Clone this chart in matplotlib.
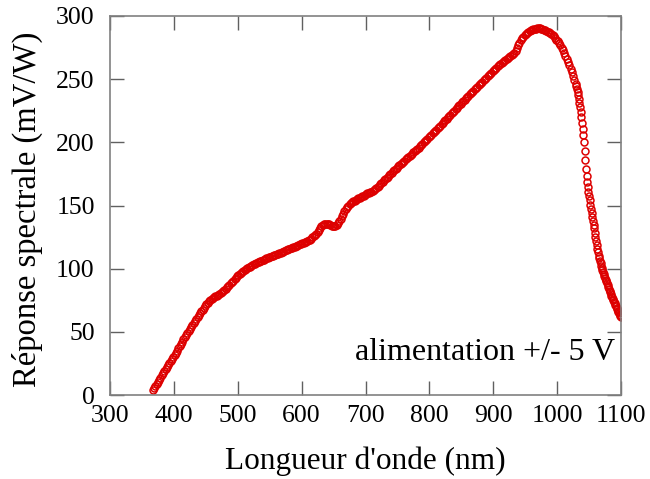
import matplotlib
matplotlib.use("Agg")
import matplotlib.pyplot as plt

# Sampling grid of the measured spectrum (nm)
wavelength = list(range(367, 1030, 2)) + list(range(1030, 1101))

# Spectral response (mV/W)
response = [
    # 367-399
    4.0, 5.6, 7.3, 8.9, 10.5, 12.2, 13.8, 15.5, 17.1, 18.7, 20.4, 22.0, 23.6, 25.3, 26.9, 28.5, 30.2,
    # 401-449
    31.8, 33.5, 35.2, 36.9, 38.6, 40.4, 42.2, 44.0, 45.8, 47.6, 49.3, 50.8, 52.5, 53.8, 55.3,
    56.8, 58.4, 60.0, 61.6, 63.2, 64.7, 66.1, 67.5, 68.9, 70.3,
    # 451-499
    71.7, 73.0, 74.2, 75.3, 76.2, 76.9, 77.5, 78.1, 78.7, 79.3, 79.9, 80.7, 81.5, 82.3, 83.1,
    84.0, 85.1, 86.2, 87.3, 88.4, 89.5, 90.6, 91.8, 92.9, 94.0,
    # 501-599
    94.9, 95.8, 96.6, 97.4, 98.2, 98.9, 99.6, 100.3, 101.0, 101.7,
    102.3, 102.8, 103.3, 103.9, 104.4, 104.9, 105.4, 105.9, 106.3, 106.8,
    107.2, 107.7, 108.1, 108.6, 109.0, 109.5, 109.9, 110.3, 110.7, 111.1,
    111.5, 111.9, 112.3, 112.7, 113.1, 113.5, 114.0, 114.4, 114.8, 115.3,
    115.7, 116.1, 116.6, 117.0, 117.4, 117.9, 118.3, 118.8, 119.3, 119.8,
    # 601-699
    120.2, 120.6, 121.0, 121.4, 121.8, 122.3, 123.0, 123.8, 124.7, 125.6,
    126.6, 127.8, 129.3, 130.8, 132.3, 133.5, 134.5, 135.1, 135.4, 135.5,
    135.4, 135.2, 134.8, 134.1, 133.6, 133.4, 133.8, 134.6, 135.8, 137.4,
    139.2, 141.3, 143.4, 145.4, 147.2, 148.7, 149.9, 150.9, 151.8, 152.6,
    153.3, 153.9, 154.5, 155.1, 155.6, 156.2, 156.8, 157.3, 157.9, 158.5,
    # 701-799
    159.0, 159.5, 160.0, 160.5, 161.0, 161.5, 162.1, 162.9, 163.8, 164.7,
    165.7, 166.7, 167.7, 168.8, 169.8, 170.8, 171.9, 172.9, 174.0, 175.0,
    176.1, 177.1, 178.1, 179.1, 180.0, 181.0, 181.9, 182.9, 183.8, 184.7,
    185.6, 186.5, 187.5, 188.4, 189.3, 190.2, 191.1, 192.1, 193.0, 193.9,
    194.9, 195.9, 196.9, 197.9, 198.9, 199.9, 200.9, 201.9, 202.9, 203.9,
    # 801-899
    204.9, 205.9, 207.0, 208.0, 209.1, 210.1, 211.2, 212.2, 213.3, 214.4,
    215.4, 216.5, 217.6, 218.7, 219.7, 220.8, 221.9, 223.0, 224.1, 225.1,
    226.2, 227.3, 228.4, 229.5, 230.6, 231.7, 232.8, 233.9, 234.9, 235.9,
    237.0, 238.0, 239.0, 240.0, 241.0, 242.0, 243.0, 244.0, 245.1, 246.1,
    247.1, 248.1, 249.1, 250.1, 251.2, 252.2, 253.2, 254.2, 255.2, 256.2,
    # 901-1029
    257.3, 258.3, 259.2, 260.1, 261.0, 261.8, 262.6, 263.4, 264.2, 265.0,
    265.8, 266.6, 267.4, 268.2, 269.0, 269.8,
    270.8, 272.6, 274.8, 277.0, 279.0, 280.8, 282.3, 283.5, 284.6, 285.6,
    286.5, 287.3, 288.0, 288.6, 289.1, 289.5, 289.9, 290.1, 290.3, 290.3,
    290.2, 290.0, 289.7, 289.3, 288.8, 288.3, 287.7, 287.1, 286.5, 285.7,
    284.8, 283.8, 282.6, 281.3,
    279.9, 278.4, 276.8, 275.0, 273.0, 270.8, 268.5, 266.1, 263.5, 260.9,
    258.2, 255.5, 252.6, 249.5, 246.0,
    # 1030-1100
    244.2, 242.2, 240.0, 237.2, 234.3, 231.2, 227.8, 224.2, 220.0, 215.5,
    210.8, 205.8, 200.2, 193.5, 186.2, 179.0, 173.0, 168.3, 164.5, 161.0,
    157.6, 154.1, 150.6, 147.3, 144.0, 140.9, 137.8, 134.8, 131.8, 128.5,
    125.1, 121.8, 118.6, 115.5, 112.8, 110.4, 108.2, 106.1, 104.2, 102.3,
    100.5, 98.9, 97.4, 95.9, 94.4, 92.9, 91.4, 89.9, 88.4, 86.9,
    85.4, 84.0, 82.6, 81.2, 79.9, 78.6, 77.4, 76.2, 75.0, 73.8,
    72.6, 71.4, 70.2, 69.0, 67.8, 66.6, 65.6, 64.6, 63.6, 62.7,
    61.8,
]
assert len(wavelength) == len(response), (len(wavelength), len(response))

x_ticks = [300, 400, 500, 600, 700, 800, 900, 1000, 1100]
y_ticks = [0, 50, 100, 150, 200, 250, 300]

xlabel = "Longueur d'onde (nm)"
ylabel = "Réponse spectrale (mV/W)"
annotation = "alimentation +/- 5 V"

plt.rcParams['font.family'] = ['Liberation Serif', 'DejaVu Serif']

fig = plt.figure(figsize=(6.5, 4.79), dpi=100)
ax = fig.add_axes([110 / 650, 1 - 395 / 479, (621 - 110) / 650, (395 - 16) / 479])

ax.plot(wavelength, response, linestyle='none', marker='o', markersize=5.0,
        markerfacecolor='none', markeredgecolor='#dd0000', markeredgewidth=1.1)

ax.set_xlim(300, 1100)
ax.set_ylim(0, 300)
ax.set_xticks(x_ticks)
ax.set_yticks(y_ticks)

for s in ax.spines.values():
    s.set_color('#808080')
    s.set_linewidth(1.2)

ax.tick_params(direction='in', length=10, width=1.0, color='#606060',
               top=True, right=True, labelsize=18.5)
ax.tick_params(axis='x', pad=7)
ax.tick_params(axis='y', pad=11)

ax.set_xlabel(xlabel, fontsize=22.5, labelpad=14)
ax.set_ylabel(ylabel, fontsize=23.5)
ax.yaxis.set_label_coords(-0.132, 0.49)

ax.text(0.988, 0.092, annotation, transform=ax.transAxes, ha='right', va='baseline',
        fontsize=23)

fig.savefig('out.png', dpi=100)
